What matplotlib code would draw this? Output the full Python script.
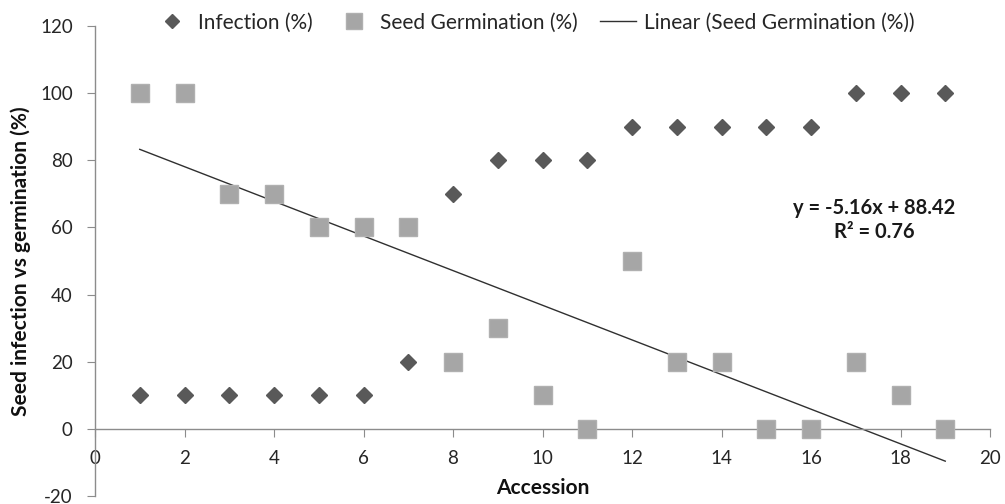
import matplotlib.pyplot as plt
import numpy as np

plt.rcParams['font.family'] = ['Lato', 'DejaVu Sans']
plt.rcParams['axes.unicode_minus'] = False

accession = [1, 2, 3, 4, 5, 6, 7, 8, 9, 10, 11, 12, 13, 14, 15, 16, 17, 18, 19]
infection = [10, 10, 10, 10, 10, 10, 20, 70, 80, 80, 80, 90, 90, 90, 90, 90, 100, 100, 100]
germination = [100, 100, 70, 70, 60, 60, 60, 20, 30, 10, 0, 50, 20, 20, 0, 0, 20, 10, 0]

# trendline as reported on the chart
slope = -5.16
intercept = 88.42
r_squared = 0.76

x_ticks = [0, 2, 4, 6, 8, 10, 12, 14, 16, 18, 20]
y_ticks = [-20, 0, 20, 40, 60, 80, 100, 120]

axis_gray = '#8c8c8c'
text_color = '#262626'

fig = plt.figure(figsize=(10.05, 5.04), dpi=100)
ax = fig.add_axes([95 / 1005, 8 / 504, (990 - 95) / 1005, (496 - 26) / 504])

ax.plot(accession, infection, linestyle='none', marker='D', markersize=7.8,
        color='#595959', markeredgecolor='#595959', label='Infection (%)', zorder=3)
ax.plot(accession, germination, linestyle='none', marker='s', markersize=13,
        color='#a6a6a6', markeredgecolor='#b0b0b0', label='Seed Germination (%)', zorder=3)

x_fit = np.array([min(accession), max(accession)])
ax.plot(x_fit, slope * x_fit + intercept, color='#303030', linewidth=1.0,
        label='Linear (Seed Germination (%))', zorder=2)

ax.text(874, 284, f'y = {slope:.2f}x + {intercept:.2f}\nR\u00b2 = {r_squared:.2f}',
        transform=None, ha='center', va='center', fontsize=14.5,
        fontweight='bold', color='#1a1a1a', linespacing=1.3)

ax.set_xlim(0, 20)
ax.set_ylim(-20, 120)
ax.set_xticks(x_ticks)
ax.set_yticks(y_ticks)

ax.spines['top'].set_visible(False)
ax.spines['right'].set_visible(False)
ax.spines['bottom'].set_position(('data', 0))
for s in ['left', 'bottom']:
    ax.spines[s].set_color(axis_gray)
    ax.spines[s].set_linewidth(1.0)

ax.tick_params(axis='x', direction='out', length=6, color=axis_gray, pad=9,
               labelsize=13.5, labelcolor=text_color)
ax.tick_params(axis='y', direction='out', length=6, color=axis_gray, pad=10,
               labelsize=13.5, labelcolor=text_color)

ax.set_xlabel('Accession', fontsize=15, fontweight='bold', color='#111111')
ax.xaxis.set_label_coords(0.5, 0.017)
ax.xaxis.label.set_va('center')
ax.set_ylabel('Seed infection vs germination (%)', fontsize=15,
              fontweight='bold', color='#111111')
ax.yaxis.set_label_coords(-0.072, 0.5)

leg = fig.legend(loc='center', bbox_to_anchor=(0.532, 0.955), ncol=3,
                 frameon=False, fontsize=15, handlelength=1.7,
                 columnspacing=1.1, handletextpad=0.4, markerscale=0.85)
for t in leg.get_texts():
    t.set_color(text_color)

fig.savefig('out.png', dpi=100, facecolor='white')
